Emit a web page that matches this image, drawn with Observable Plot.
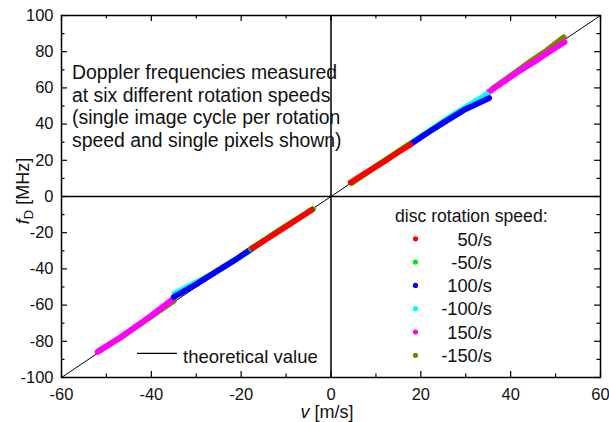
<!DOCTYPE html>
<html><head><meta charset="utf-8">
<script src="https://cdn.jsdelivr.net/npm/d3@7"></script>
<script src="https://cdn.jsdelivr.net/npm/@observablehq/plot@0.6"></script>
<style>body{margin:0;background:#fff;font-family:"Liberation Sans",Arial,sans-serif;}</style>
</head><body><div id="chart"></div>
<script>
// ---- data ----
const xTicks = [-60, -40, -20, 0, 20, 40, 60];
const xMinor = [-50, -30, -10, 10, 30, 50];
const yTicks = [-100, -80, -60, -40, -20, 0, 20, 40, 60, 80, 100];
const yMinor = [-90, -70, -50, -30, -10, 10, 30, 50, 70, 90];
const theoryV = [-60, 60];
const theoryF = [-100, 100];
const speedLabels = ["50/s", "-50/s", "100/s", "-100/s", "150/s", "-150/s"];
const speedColors = ["#ff0000", "#00e600", "#0000ff", "#00ffff", "#ff00ff", "#808000"];
const annotation = ["Doppler frequencies measured", "at six different rotation speeds", "(single image cycle per rotation", "speed and single pixels shown)"];
// [v (m/s), fD (MHz)]; [NaN,NaN] separates the two branches
const s50 = [[4.4, 7.7], [8, 13.4], [12, 19.6], [15, 24.5], [17.6, 28.6], [NaN, NaN],
             [-17.5, -28.6], [-14, -23], [-10, -16.6], [-7, -11.8], [-4.3, -7.4]];
const sM50 = [[4.7, 7.5], [10, 16.6], [17.4, 28.9], [NaN, NaN],
              [-17.8, -28.9], [-12, -19.4], [-4.0, -6.9]];
const s100 = [[17.5, 28.6], [22, 36], [26, 42.3], [30, 48.3], [35.2, 54.4], [NaN, NaN],
              [-35, -55.5], [-30, -48.5], [-25.7, -41.7], [-21, -34.5], [-17.5, -28.6]];
const sM100 = [[17.8, 29.4], [26, 43.2], [34.7, 56.5], [NaN, NaN],
               [-34.8, -53.6], [-26, -42.3], [-17.8, -29.4]];
const s150 = [[35.1, 57.7], [38, 62.6], [41.5, 68.6], [45, 74], [48, 79], [52, 85.3], [NaN, NaN],
              [-52, -85.9], [-48, -79.6], [-44, -72.9], [-40, -65.8], [-35.2, -56.6]];
const sM150 = [[36, 59.6], [40, 66.6], [44, 73.9], [48, 80.6], [51.8, 88], [NaN, NaN],
               [-51.5, -85], [-47, -78.2], [-43, -71.3], [-38, -62.8], [-35, -57.6]];
const series = [s50, sM50, s100, sM100, s150, sM150];
const drawOrder = [5, 4, 3, 2, 1, 0];

const W = 609, H = 422, mL = 61, mR = 9, mT = 15, mB = 45;
const fw = W - mL - mR, fh = H - mT - mB;
const FONT = '"Liberation Sans", Arial, sans-serif';

const marks = [
  Plot.ruleX([0], {stroke: "#000", strokeWidth: 1.5}),
  Plot.ruleY([0], {stroke: "#000", strokeWidth: 1.5}),
  Plot.line(theoryV.map((v, i) => [v, theoryF[i]]), {x: d => d[0], y: d => d[1], stroke: "#000", strokeWidth: 1}),
];
for (const i of drawOrder) {
  marks.push(Plot.line(series[i], {x: d => d[0], y: d => d[1], stroke: speedColors[i], strokeWidth: 5.8, strokeLinecap: "round", strokeLinejoin: "round"}));
}
// inward ticks on all four sides
marks.push(
  Plot.tickX(xTicks, {x: d => d, insetTop: fh - 6, stroke: "#000", strokeWidth: 1.2}),
  Plot.tickX(xTicks, {x: d => d, insetBottom: fh - 6, stroke: "#000", strokeWidth: 1.2}),
  Plot.tickX(xMinor, {x: d => d, insetTop: fh - 3.5, stroke: "#000", strokeWidth: 1.2}),
  Plot.tickX(xMinor, {x: d => d, insetBottom: fh - 3.5, stroke: "#000", strokeWidth: 1.2}),
  Plot.tickY(yTicks, {y: d => d, insetRight: fw - 6, stroke: "#000", strokeWidth: 1.2}),
  Plot.tickY(yTicks, {y: d => d, insetLeft: fw - 6, stroke: "#000", strokeWidth: 1.2}),
  Plot.tickY(yMinor, {y: d => d, insetRight: fw - 3.5, stroke: "#000", strokeWidth: 1.2}),
  Plot.tickY(yMinor, {y: d => d, insetLeft: fw - 3.5, stroke: "#000", strokeWidth: 1.2}),
  Plot.axisX({ticks: xTicks, tickSize: 0, tickPadding: 11, label: null, fontSize: 16.5, fill: "#111", tickFormat: d => String(d)}),
  Plot.axisY({ticks: yTicks, tickSize: 0, tickPadding: 8, label: null, fontSize: 16.5, fill: "#111", tickFormat: d => String(d)}),
  Plot.frame({stroke: "#000", strokeWidth: 1.5})
);
// legend dots
speedLabels.forEach((lab, i) => {
  marks.push(Plot.dot([lab], {frameAnchor: "top-left", dx: 354, dy: 223.3 + 23.3 * i, r: 2.6, fill: speedColors[i], stroke: "none"}));
});

const chart = Plot.plot({
  width: W, height: H,
  marginLeft: mL, marginRight: mR, marginTop: mT, marginBottom: mB,
  style: {fontFamily: FONT, background: "#fff", color: "#111"},
  x: {domain: [-60, 60], axis: null},
  y: {domain: [-100, 100], axis: null},
  marks
});
document.getElementById("chart").appendChild(chart);

const svg = d3.select(chart);
const tg = svg.append("g").attr("font-family", FONT).attr("fill", "#111").attr("text-anchor", "start");
// annotation
annotation.forEach((t, i) => {
  tg.append("text").attr("x", 72).attr("y", 79 + 22.6 * i).attr("font-size", 19.4).attr("text-anchor", "start").text(t);
});
// rotation-speed legend
tg.append("text").attr("x", 395).attr("y", 221.5).attr("font-size", 17.6).attr("text-anchor", "start").text("disc rotation speed:");
speedLabels.forEach((lab, i) => {
  tg.append("text").attr("x", 492).attr("y", 245.7 + 23.2 * i).attr("font-size", 18.3).attr("text-anchor", "end").text(lab);
});
// theoretical value legend
tg.append("line").attr("x1", 137).attr("x2", 177).attr("y1", 353.3).attr("y2", 353.3).attr("stroke", "#000").attr("stroke-width", 1.2);
tg.append("text").attr("x", 183).attr("y", 362.5).attr("font-size", 18.5).attr("text-anchor", "start").text("theoretical value");
// axis labels
const xl = tg.append("text").attr("x", 327).attr("y", 418).attr("font-size", 18).attr("text-anchor", "middle");
xl.append("tspan").attr("font-style", "italic").text("v");
xl.append("tspan").text(" [m/s]");
const yl = tg.append("text").attr("transform", "translate(29,191) rotate(-90)").attr("font-size", 18).attr("text-anchor", "middle");
yl.append("tspan").attr("font-style", "italic").text("f");
yl.append("tspan").attr("font-size", 13).attr("dy", 4).text("D");
yl.append("tspan").attr("dy", -4).text(" [MHz]");
</script>
</body></html>
